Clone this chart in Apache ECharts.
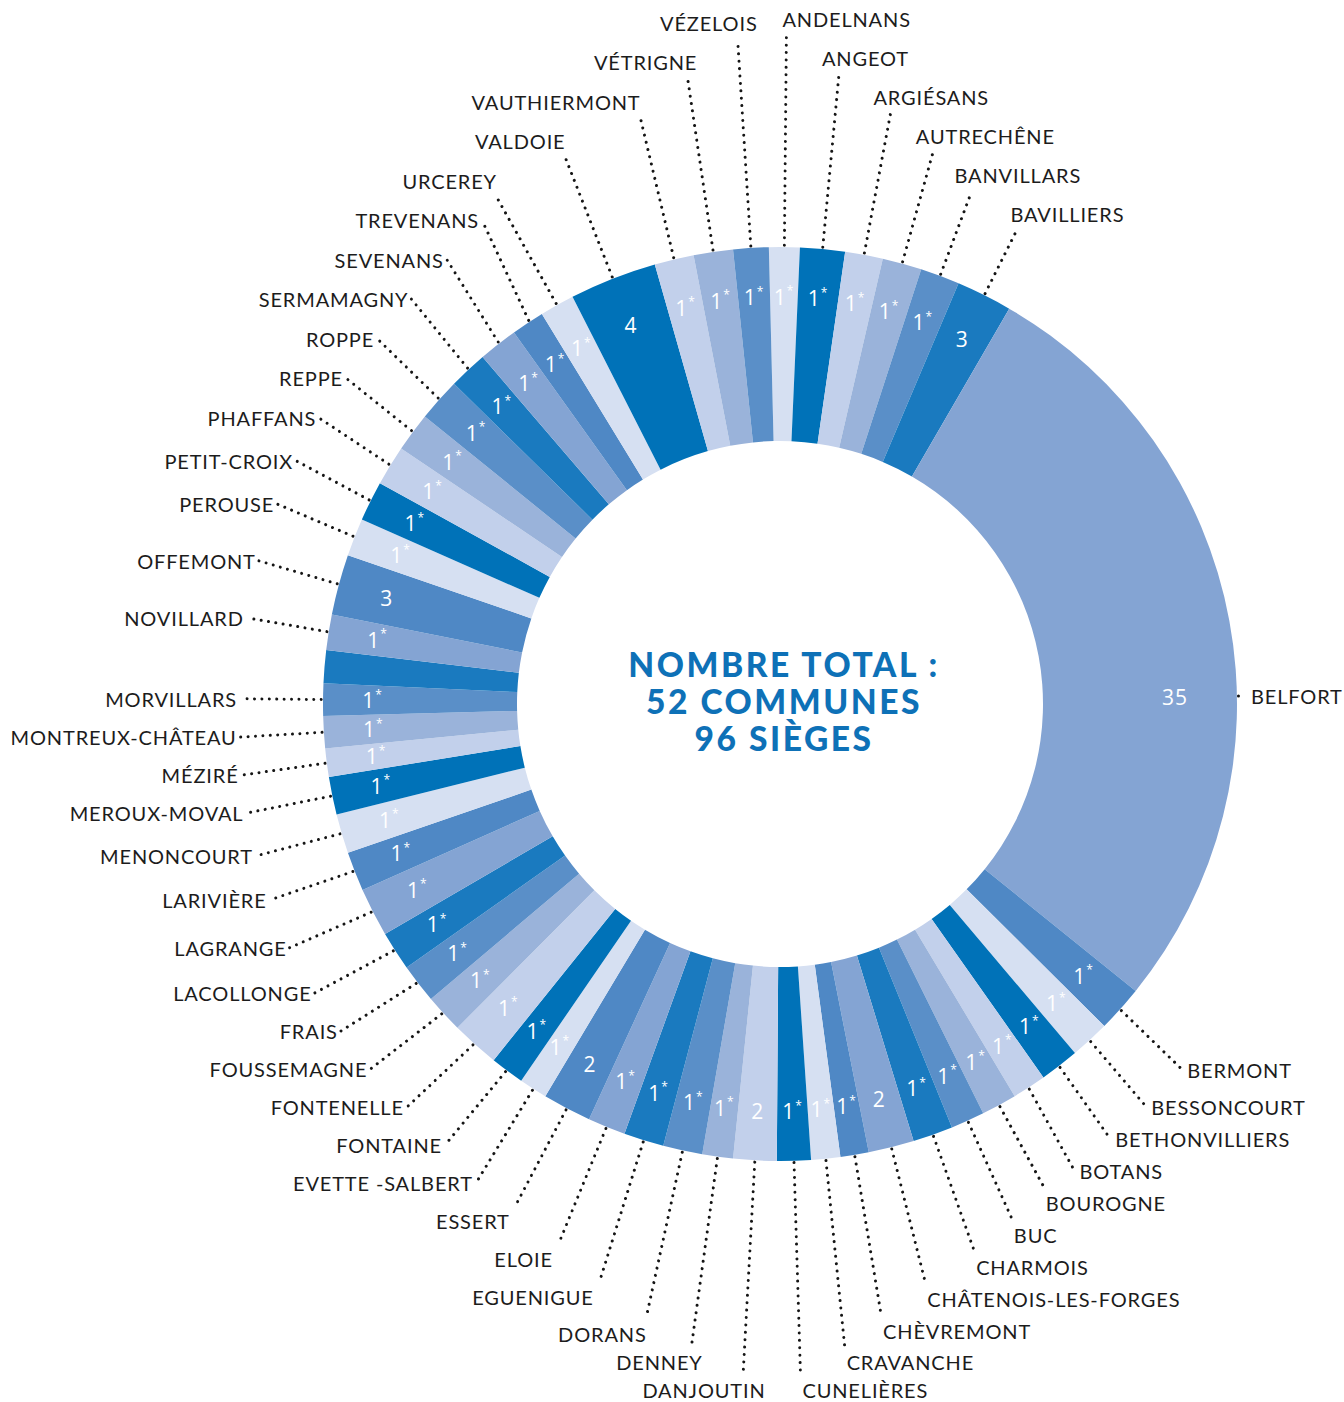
<!DOCTYPE html>
<html><head><meta charset="utf-8">
<style>
html,body{margin:0;padding:0;background:#fff;}
#c{width:1344px;height:1402px;}
#c text{letter-spacing:0.85px;}
#c text[style*="900"]{letter-spacing:2.3px;}
</style>
<script src="https://cdn.jsdelivr.net/npm/echarts@6/dist/echarts.min.js"></script>
</head><body><div id="c"></div>
<script>
// Communes, clockwise from 12 o'clock ('' = unlabelled slice in the picture)
const communes = ['ANDELNANS','ANGEOT','ARGIÉSANS','AUTRECHÊNE','BANVILLARS','BAVILLIERS','BELFORT',
 'BERMONT','BESSONCOURT','BETHONVILLIERS','BOTANS','BOUROGNE','BUC','CHARMOIS','CHÂTENOIS-LES-FORGES',
 'CHÈVREMONT','CRAVANCHE','CUNELIÈRES','DANJOUTIN','DENNEY','DORANS','EGUENIGUE','ELOIE','ESSERT',
 'EVETTE -SALBERT','FONTAINE','FONTENELLE','FOUSSEMAGNE','FRAIS','LACOLLONGE','LAGRANGE','LARIVIÈRE',
 'MENONCOURT','MEROUX-MOVAL','MÉZIRÉ','MONTREUX-CHÂTEAU','MORVILLARS','','NOVILLARD','OFFEMONT',
 'PEROUSE','PETIT-CROIX','PHAFFANS','REPPE','ROPPE','SERMAMAGNY','SEVENANS','TREVENANS','URCEREY',
 'VALDOIE','VAUTHIERMONT','VÉTRIGNE','VÉZELOIS'];
// Seats shown in each slice (null = no number shown)
const seats = [1,1,1,1,1,3,35, 1,1,1,1,1,1,1,2, 1,1,1,2,1,1,1,1,2, 1,1,1,1,1,1,1,1,
 1,1,1,1,1,null,1,3, 1,1,1,1,1,1,1,1,1, 4,1,1,1];
// Angular size of each slice as drawn in the picture (degrees)
const sliceSizes = [3.9,5.7,4.8,5.0,5.0,7.1,98.8, 5.9,5.0,5.0,4.3,4.5,4.3,5.1,5.8,
 3.6,3.7,4.3,5.5,3.9,5.0,5.1,4.8,6.2, 3.6,4.3,6.1,4.9,5.0,5.0,6.2,5.0,
 5.0,4.8,3.6,4.1,4.1,4.2,4.5,7.7, 4.8,5.1,5.1,5.0,5.5,4.9,5.0,4.2,4.4,
 11.1,5.0,5.0,4.5];
const titleLines = ['NOMBRE TOTAL :','52 COMMUNES','96 SIÈGES'];
const palette = ['#D6E0F2','#0072B8','#C2D0EB','#9AB3DA','#5A8FC8','#1A7ABF','#84A4D3','#4F88C5'];

const CX = 780, CY = 704, R_IN = 263, R_OUT = 457;
const START = -1.4;               // first slice starts 1.4° left of 12 o'clock
const R_LINE0 = 444;
const total = sliceSizes.reduce((a,b)=>a+b,0);
const mids = []; let acc = 0;
sliceSizes.forEach(v=>{ mids.push(START + (acc + v/2)/total*360); acc += v; });
const bigIdx = sliceSizes.indexOf(Math.max.apply(null, sliceSizes));

// ---- label placement (stacked columns, leader lines) ----
const groups = {UL:[],UR:[],LL:[],LR:[]};
communes.forEach((n,i)=>{
  if (!n || i === bigIdx) return;
  const th = ((mids[i] % 360) + 360) % 360;
  const rad = th*Math.PI/180;
  const side = th < 180 ? 'R' : 'L';
  const up = Math.cos(rad) > 0;
  const rY = (!up && side === 'L') ? 535 : 548;
  const y0 = CY - rY*Math.cos(rad);
  groups[(up?'U':'L') + side].push({i, th, rad, y0, side, up});
});
function stackUp(list, gap){
  list.sort((a,b)=>b.y0-a.y0); let prev = Infinity;
  list.forEach(o=>{ o.y = Math.min(o.y0, prev-gap); prev = o.y; });
}
function stackDown(list, gap, minGap, bottom){
  list.sort((a,b)=>a.y0-b.y0); let prev = -Infinity;
  list.forEach(o=>{ o.y = Math.max(o.y0, prev+gap); prev = o.y; });
  let next = bottom + minGap;
  for (let k=list.length-1;k>=0;k--){ list[k].y = Math.min(list[k].y, next-minGap); next = list[k].y; }
}
stackUp(groups.UL, 39.5); stackUp(groups.UR, 39);
stackDown(groups.LL, 38, 28, 1390); stackDown(groups.LR, 32, 28, 1390);

const layout = {};
[].concat(groups.UL, groups.UR, groups.LL, groups.LR).forEach(o=>{
  const s = Math.sin(o.rad), c = Math.cos(o.rad);
  const phi = Math.min(o.th, Math.abs(180-o.th), 360-o.th);
  const steep = phi < 31;
  let ax, ay, tx, align;
  if (steep) {
    ay = o.up ? o.y + 17 : o.y - 16;
    const r = (CY - ay)/c;
    ax = CX + r*s;
    if (o.side === 'R') {
      align = 'left';
      tx = o.up ? ax + (phi < 2 ? -4 : (phi > 25 ? -6 : -17)) : ax + 2;
    } else {
      align = 'right';
      tx = ax + (o.up ? Math.max(0, 28 - 2.2*phi) : Math.max(-6, 30 - 2.4*phi));
    }
  } else {
    const rX = (!o.up && o.side === 'L') ? 540 + 0.4*(270 - o.th) : 540;
    ax = CX + rX*s; ay = o.y;
    if (o.side === 'R') { align = 'left'; tx = ax + 5; }
    else { align = 'right'; tx = ax - 3; }
  }
  layout[o.i] = { tx, ty: o.y, align,
    line: [[CX + R_LINE0*s, CY - R_LINE0*c], [ax, ay]] };
});
// the large slice: label at 3 o'clock
(function(){
  const y = CY - 8;
  layout[bigIdx] = { tx: CX + 471, ty: y, align: 'left', line: [[CX + 414, y], [CX + 465, y]] };
})();

const chart = echarts.init(document.getElementById('c'), null, {renderer: 'svg'});
const base = communes.map((n,i)=>({ name: n || ('_'+i), value: sliceSizes[i] }));

chart.setOption({
  animation: false,
  color: palette,
  graphic: titleLines.map((t,k)=>({
    type: 'text', silent: true, x: 784, y: 664 + k*37, scaleX: 1.1, scaleY: 1.1,
    style: { text: t, x: 0, y: 0, align: 'center', verticalAlign: 'middle',
      fontFamily: 'Lato', fontWeight: 900, fontSize: 30.5, lineHeight: 30, fill: '#0E71B7' }
  })),
  series: [
    { type: 'pie', silent: true, center: [CX, CY], radius: [R_IN, R_OUT],
      startAngle: 90 - START, clockwise: true, avoidLabelOverlap: false,
      label: {show: false}, labelLine: {show: false}, itemStyle: {borderWidth: 0},
      data: base },
    { type: 'pie', silent: true, center: [CX, CY], radius: [352, R_OUT],
      startAngle: 90 - START, clockwise: true, avoidLabelOverlap: false, minShowLabelAngle: 0,
      itemStyle: {color: 'rgba(0,0,0,0)', borderWidth: 0},
      label: { show: true, position: 'inside',
        formatter: p => { const v = seats[p.dataIndex]; if (v == null) return ''; return v === 1 ? '{n|1}{s|*}' : '{n|' + v + '}'; },
        rich: { n: {fontFamily: 'Open Sans', fontSize: 21, color: '#fff', lineHeight: 24},
                s: {fontFamily: 'Open Sans', fontSize: 12, color: '#fff', verticalAlign: 'top', lineHeight: 24, padding: [0,0,0,1]} } },
      labelLayout: p => {
        if (p.dataIndex !== bigIdx) return {};
        const a = 89*Math.PI/180;
        return { x: CX + 395*Math.sin(a), y: CY - 395*Math.cos(a), align: 'center', verticalAlign: 'middle' };
      },
      labelLine: {show: false},
      data: base },
    { type: 'pie', silent: true, center: [CX, CY], radius: [R_IN, R_OUT],
      startAngle: 90 - START, clockwise: true, avoidLabelOverlap: false, minShowLabelAngle: 0,
      itemStyle: {color: 'rgba(0,0,0,0)', borderWidth: 0},
      label: { show: true, position: 'outside', alignTo: 'none',
        formatter: p => communes[p.dataIndex],
        fontFamily: 'Lato', fontSize: 20, color: '#1c1c1c' },
      labelLine: { show: true, length: 20, length2: 0, smooth: false,
        lineStyle: { color: '#151515', width: 3, type: [0.01, 7.4], cap: 'round' } },
      labelLayout: p => {
        const L = layout[p.dataIndex];
        if (!L) return {};
        return { x: L.tx, y: L.ty, align: L.align, verticalAlign: 'middle', labelLinePoints: L.line };
      },
      data: base.map((d,i)=> communes[i] ? d : Object.assign({}, d, {label:{show:false}, labelLine:{show:false}})) }
  ]
});
</script>
</body></html>
